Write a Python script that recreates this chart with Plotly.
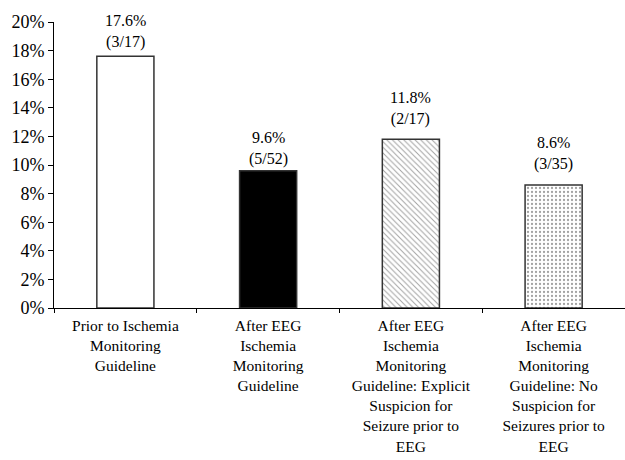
import plotly.graph_objects as go

categories = [
    "Prior to Ischemia<br>Monitoring<br>Guideline",
    "After EEG<br>Ischemia<br>Monitoring<br>Guideline",
    "After EEG<br>Ischemia<br>Monitoring<br>Guideline: Explicit<br>Suspicion for<br>Seizure prior to<br>EEG",
    "After EEG<br>Ischemia<br>Monitoring<br>Guideline: No<br>Suspicion for<br>Seizures prior to<br>EEG",
]
values = [0.176, 0.096, 0.118, 0.086]
bar_labels = ["17.6%<br>(3/17)", "9.6%<br>(5/52)", "11.8%<br>(2/17)", "8.6%<br>(3/35)"]
label_shift = [3, 1, 9, 10]
fills = ["white", "black", "white", "white"]
patterns = ["", "", "\\", "."]
pattern_fg = ["black", "black", "#3a3a3a", "#707070"]

FONT = "Liberation Serif"

fig = go.Figure(
    go.Bar(
        x=categories,
        y=values,
        width=0.4,
        marker=dict(
            color=fills,
            line=dict(color="#333333", width=1.5),
            pattern=dict(shape=patterns, fgcolor=pattern_fg, bgcolor="white",
                         size=4, solidity=0.25),
        ),
    )
)

for c, v, t, s in zip(categories, values, bar_labels, label_shift):
    fig.add_annotation(
        x=c, y=v, text=t, showarrow=False, yanchor="bottom", yshift=s,
        font=dict(family=FONT, size=16, color="black"), align="center",
    )

fig.update_layout(
    width=625,
    height=460,
    margin=dict(l=54, r=0, t=22, b=152),
    plot_bgcolor="white",
    paper_bgcolor="white",
    showlegend=False,
    font=dict(family=FONT, size=16, color="black"),
)
fig.update_yaxes(
    range=[0, 0.20],
    dtick=0.02,
    tickformat=".0%",
    showgrid=False,
    showline=True,
    linecolor="black",
    linewidth=1,
    ticks="outside",
    ticklen=5,
    tickcolor="black",
    zeroline=False,
    automargin=False,
    tickfont=dict(family=FONT, size=18),
)
fig.update_xaxes(
    showgrid=False,
    showline=True,
    linecolor="black",
    linewidth=1,
    ticks="outside",
    ticklen=4,
    tickcolor="black",
    tickson="boundaries",
    tickangle=0,
    ticklabelstandoff=3,
    automargin=False,
    tickfont=dict(family=FONT, size=15.5),
)

fig.write_html("out.html")
